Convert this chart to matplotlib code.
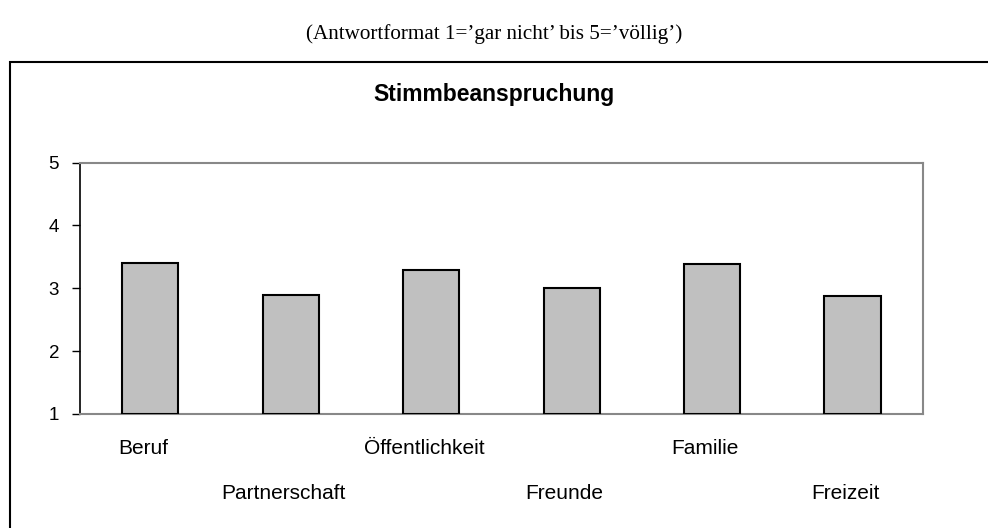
import matplotlib.pyplot as plt
from matplotlib.patches import Rectangle

plt.rcParams['font.family'] = ['Liberation Sans', 'DejaVu Sans']

kategorien = ['Beruf', 'Partnerschaft', 'Öffentlichkeit', 'Freunde', 'Familie', 'Freizeit']
werte = [3.41, 2.90, 3.29, 3.00, 3.38, 2.88]
y_ticks = [1, 2, 3, 4, 5]

fig = plt.figure(figsize=(9.88, 5.28), dpi=100)
ax = fig.add_axes([0.081, 0.216, 0.853, 0.476])

x = range(len(kategorien))
ax.bar(x, [w - 1 for w in werte], bottom=1, width=0.4,
       color='#c0c0c0', edgecolor='black', linewidth=1.5, zorder=3)

ax.set_xlim(-0.5, len(kategorien) - 0.5)
ax.set_ylim(1, 5)
ax.set_yticks(y_ticks)
ax.tick_params(axis='y', labelsize=13.5, length=6, width=1, direction='out', pad=9)
ax.set_xticks([])

for s in ['top', 'right', 'bottom']:
    ax.spines[s].set_color('#888888')
    ax.spines[s].set_linewidth(1.5)
ax.spines['left'].set_color('black')
ax.spines['left'].set_linewidth(1.2)

# Beschriftungen abwechselnd in zwei Reihen
for i, name in enumerate(kategorien):
    y = -0.159 if i % 2 == 0 else -0.338
    ax.text(i - 0.05, y, name, transform=ax.get_xaxis_transform(),
            ha='center', va='baseline', fontsize=15)

# Rahmen um das Diagramm
fig.patches.append(Rectangle((10 / 988, -0.2), 1.2, 1 - 62 / 528 + 0.2,
                             transform=fig.transFigure, fill=False,
                             edgecolor='black', linewidth=1.5))

fig.text(0.5, 1 - 94 / 528, 'Stimmbeanspruchung', ha='center', va='center',
         fontsize=16.5, fontweight='bold')
fig.text(0.5, 1 - 34 / 528, "(Antwortformat 1=’gar nicht’ bis 5=’völlig’)",
         ha='center', va='center', fontsize=15.2,
         family=['Liberation Serif', 'DejaVu Serif'])

fig.savefig('out.png', dpi=100)
